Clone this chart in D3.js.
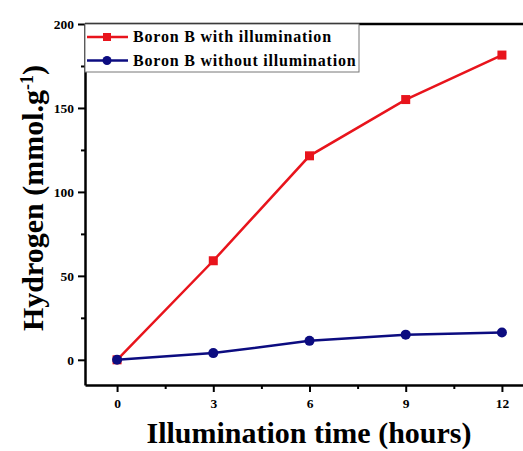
<!DOCTYPE html>
<html>
<head>
<meta charset="utf-8">
<script src="https://cdn.jsdelivr.net/npm/d3@7"></script>
<style>
  body { margin: 0; background: #fff; }
  svg { display: block; font-family: "Liberation Serif", "Times New Roman", serif; font-weight: bold; }
</style>
</head>
<body>
<svg></svg>
<script>
const hours = [0, 3, 6, 9, 12];
const withLight = [0, 59, 121.5, 155, 181.5];
const withoutLight = [0, 4, 11.3, 15, 16.3];
const seriesNames = ['Boron B with illumination', 'Boron B without illumination'];
const xTicks = [0, 3, 6, 9, 12];
const yTicks = [0, 50, 100, 150, 200];

const width = 523;
const height = 451;
const margin = { top: 24, right: -11, bottom: 66, left: 85 };

const svg = d3.select('svg')
  .attr('width', width)
  .attr('height', height);

const x = d3.scaleLinear()
  .domain([-1, 13])
  .range([margin.left, width - margin.right]);

const y = d3.scaleLinear()
  .domain([-15, 200])
  .range([height - margin.bottom, margin.top]);

// minor ticks first, then the labelled ones
const xMinor = d3.range(-1.5, 13, 1.5).filter((v) => xTicks.indexOf(v) < 0 && v > -1);
const yMinor = d3.range(25, 200, 50);

svg.append('g')
  .attr('transform', `translate(0,${y(-15)})`)
  .call(d3.axisBottom(x).tickValues(xMinor).tickSize(4).tickFormat(''))
  .call((g) => g.select('.domain').remove())
  .selectAll('line').attr('stroke-width', 2);

svg.append('g')
  .attr('transform', `translate(${x(-1)},0)`)
  .call(d3.axisLeft(y).tickValues(yMinor).tickSize(4).tickFormat(''))
  .call((g) => g.select('.domain').remove())
  .selectAll('line').attr('stroke-width', 2);

const xAxis = svg.append('g')
  .attr('transform', `translate(0,${y(-15)})`)
  .call(d3.axisBottom(x).tickValues(xTicks).tickSize(7).tickPadding(6).tickSizeOuter(0));

const yAxis = svg.append('g')
  .attr('transform', `translate(${x(-1)},0)`)
  .call(d3.axisLeft(y).tickValues(yTicks).tickSize(7).tickPadding(4).tickSizeOuter(0));

[xAxis, yAxis].forEach((ax) => {
  ax.select('.domain').attr('stroke-width', 2.5);
  ax.selectAll('.tick line').attr('stroke-width', 2);
  ax.selectAll('.tick text')
    .attr('font-size', 13.5)
    .attr('font-weight', 'bold')
    .attr('font-family', '"Liberation Serif", serif')
    .attr('fill', '#000');
});

// top frame line
svg.append('line')
  .attr('x1', x(-1)).attr('x2', x(13))
  .attr('y1', y(200)).attr('y2', y(200))
  .attr('stroke', '#000')
  .attr('stroke-width', 2.5);

const line = d3.line()
  .x((d) => x(d[0]))
  .y((d) => y(d[1]));

const redData = hours.map((h, i) => [h, withLight[i]]);
const blueData = hours.map((h, i) => [h, withoutLight[i]]);

svg.append('path')
  .datum(redData)
  .attr('d', line)
  .attr('fill', 'none')
  .attr('stroke', '#e8141c')
  .attr('stroke-width', 2.5);

svg.selectAll('.sq')
  .data(redData).enter()
  .append('rect')
  .attr('class', 'sq')
  .attr('x', (d) => x(d[0]) - 4.5)
  .attr('y', (d) => y(d[1]) - 4.5)
  .attr('width', 9)
  .attr('height', 9)
  .attr('fill', '#e8141c');

svg.append('path')
  .datum(blueData)
  .attr('d', line)
  .attr('fill', 'none')
  .attr('stroke', '#0c0c80')
  .attr('stroke-width', 2.5);

svg.selectAll('.dot')
  .data(blueData).enter()
  .append('circle')
  .attr('class', 'dot')
  .attr('cx', (d) => x(d[0]))
  .attr('cy', (d) => y(d[1]))
  .attr('r', 5)
  .attr('fill', '#0c0c80');

// legend
const legend = svg.append('g');
legend.append('rect')
  .attr('x', 85).attr('y', 24)
  .attr('width', 274).attr('height', 48)
  .attr('fill', '#fff')
  .attr('stroke', '#777')
  .attr('stroke-width', 1);

const legendColors = ['#e8141c', '#0c0c80'];
seriesNames.forEach((name, i) => {
  const ly = 37 + i * 23.5;
  legend.append('line')
    .attr('x1', 87).attr('x2', 128)
    .attr('y1', ly).attr('y2', ly)
    .attr('stroke', legendColors[i])
    .attr('stroke-width', 2.5);
  if (i === 0) {
    legend.append('rect')
      .attr('x', 103).attr('y', ly - 4)
      .attr('width', 8).attr('height', 8)
      .attr('fill', legendColors[i]);
  } else {
    legend.append('circle')
      .attr('cx', 107).attr('cy', ly).attr('r', 4.5)
      .attr('fill', legendColors[i]);
  }
  legend.append('text')
    .attr('x', 133).attr('y', ly + 5)
    .attr('font-size', 16)
    .attr('letter-spacing', 0.8)
    .text(name);
});

// axis titles
svg.append('text')
  .attr('x', 309).attr('y', 443)
  .attr('text-anchor', 'middle')
  .attr('font-size', 30)
  .text('Illumination time (hours)');

const yTitle = svg.append('text')
  .attr('transform', 'translate(43,198) rotate(-90)')
  .attr('text-anchor', 'middle')
  .attr('font-size', 30)
  .text('Hydrogen (mmol.g');
yTitle.append('tspan')
  .attr('baseline-shift', 'super')
  .attr('font-size', 18)
  .text('-1');
yTitle.append('tspan').text(')');
</script>
</body>
</html>
